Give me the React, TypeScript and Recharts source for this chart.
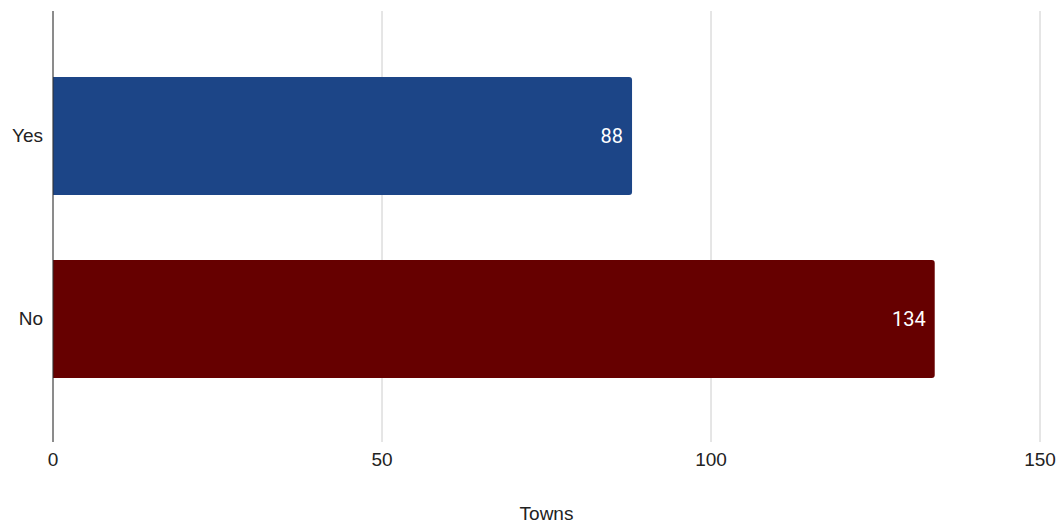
import React from "react";
import { BarChart, Bar, XAxis, YAxis, CartesianGrid, LabelList, Cell } from "recharts";

const categories = ["Yes", "No"];
const towns = [88, 134];
const barColors = ["#1c4587", "#660000"];
const xTicks = [0, 50, 100, 150];

const data = categories.map((c, i) => ({ name: c, towns: towns[i] }));

const axisFont = "Liberation Sans, Arial, sans-serif";

export default function App() {
  return (
    <div style={{ position: "absolute", left: 0, top: 0, background: "#fff" }}>
      <BarChart
        width={1062}
        height={525}
        data={data}
        layout="vertical"
        margin={{ top: 11, right: 22, bottom: 3, left: 0 }}
        barCategoryGap={0}
      >
        <CartesianGrid horizontal={false} stroke="#cccccc" strokeDasharray="" />
        <XAxis
          type="number"
          domain={[0, 150]}
          ticks={xTicks}
          axisLine={false}
          tickLine={false}
          tickSize={0}
          tickMargin={11}
          height={80}
          tick={{ fill: "#222222", fontSize: 19, fontFamily: axisFont }}
          label={{
            value: "Towns",
            position: "insideBottom",
            offset: 2,
            fill: "#222222",
            fontSize: 19,
            fontFamily: axisFont,
          }}
        />
        <YAxis
          type="category"
          dataKey="name"
          width={53}
          padding={{ top: 33, bottom: 32 }}
          axisLine={{ stroke: "#333333", strokeWidth: 1 }}
          tickLine={false}
          tickSize={0}
          tickMargin={10}
          tick={{ fill: "#222222", fontSize: 19, fontFamily: axisFont }}
        />
        <Bar dataKey="towns" barSize={118} radius={[0, 3, 3, 0]} isAnimationActive={false}>
          {data.map((d, i) => (
            <Cell key={d.name} fill={barColors[i]} />
          ))}
          <LabelList
            dataKey="towns"
            position="insideRight"
            offset={9}
            fill="#ffffff"
            fontSize={20}
            fontFamily="Roboto, sans-serif"
          />
        </Bar>
      </BarChart>
    </div>
  );
}
